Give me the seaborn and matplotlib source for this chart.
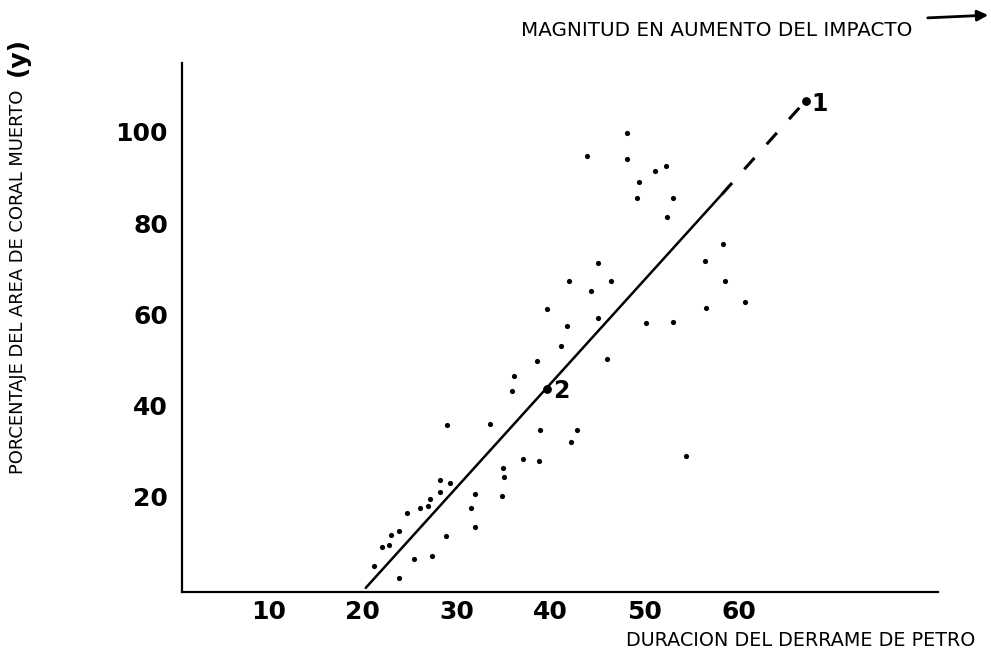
import numpy as np
import pandas as pd
import matplotlib
matplotlib.use('Agg')
import matplotlib.pyplot as plt
import seaborn as sns

# ---- values --------------------------------------------------------------
spill_days = [29.0, 33.5, 37.0, 38.7, 34.9, 35.0, 28.2, 29.3, 28.2, 31.9,
              34.8, 27.1, 26.1, 26.9, 31.5, 24.7, 31.9, 23.8, 23.0, 28.8,
              22.8, 22.0, 21.2, 25.4, 27.4, 23.8, 41.9, 46.4, 44.3, 39.6,
              45.0, 41.7, 41.1, 38.5, 46.0, 36.1, 35.9, 38.8, 42.8, 42.1,
              48.1, 43.9, 48.1, 52.3, 51.1, 49.4, 49.2, 53.0, 52.4, 58.3,
              56.4, 58.5, 45.0, 56.5, 50.1, 53.0, 60.7, 54.4]
dead_coral = [35.7, 36.0, 28.3, 27.9, 26.3, 24.3, 23.6, 23.0, 21.1, 20.5,
              20.2, 19.6, 17.6, 18.0, 17.5, 16.4, 13.3, 12.4, 11.7, 11.3,
              9.4, 9.0, 4.9, 6.4, 7.0, 2.2, 67.4, 67.3, 65.1, 61.1,
              59.1, 57.5, 53.1, 49.8, 50.2, 46.5, 43.2, 34.7, 34.7, 31.9,
              99.7, 94.6, 94.1, 92.6, 91.4, 88.9, 85.5, 85.4, 81.4, 75.4,
              71.6, 67.2, 71.2, 61.3, 58.0, 58.4, 62.6, 28.9]

marked_labels = ['1', '2']
marked_x = [67.1, 39.6]
marked_y = [106.8, 43.7]

trend_x = [20.3, 58.2]
trend_y = [0.0, 86.3]
extension_x = [58.2, 67.1]
extension_y = [86.3, 106.8]

x_ticks = [10, 20, 30, 40, 50, 60]
y_ticks = [20, 40, 60, 80, 100]

points = pd.DataFrame({'days': spill_days, 'coral': dead_coral})
marked = pd.DataFrame({'days': marked_x, 'coral': marked_y, 'label': marked_labels})

# ---- figure ----------------------------------------------------------------
sns.set_style('white')
plt.rcParams['font.family'] = ['DejaVu Sans']
plt.rcParams['text.color'] = 'black'

fig = plt.figure(figsize=(9.91, 6.62), dpi=100)
ax = fig.add_axes([182 / 991, 1 - 592 / 662, 756 / 991, 529 / 662])

sns.scatterplot(data=points, x='days', y='coral', ax=ax, color='black',
                s=14, linewidth=0, legend=False)
sns.scatterplot(data=marked, x='days', y='coral', ax=ax, color='black',
                s=40, linewidth=0, legend=False)
sns.lineplot(x=trend_x, y=trend_y, ax=ax, color='black', linewidth=1.8)
sns.lineplot(x=extension_x, y=extension_y, ax=ax, color='black',
             linewidth=2.2, linestyle=(0, (5, 6)))

for _, row in marked.iterrows():
    ax.text(row.days + 0.6, row.coral - 0.6, row.label, fontsize=17,
            fontweight='bold', va='center', ha='left', color='black')

ax.set_xlim(0.75, 81.2)
ax.set_ylim(-0.9, 115.1)
ax.set_xticks(x_ticks)
ax.set_yticks(y_ticks)
ax.set_xticklabels([str(t) for t in x_ticks], fontsize=18, fontweight='bold')
ax.set_yticklabels([str(t) for t in y_ticks], fontsize=18, fontweight='bold')
ax.tick_params(axis='both', direction='in', length=9, width=1.3,
               colors='black', labelcolor='black')
ax.tick_params(axis='x', pad=6)
ax.tick_params(axis='y', pad=10)
ax.set_xlabel('')
ax.set_ylabel('')

sns.despine(ax=ax)
for side in ['left', 'bottom']:
    ax.spines[side].set_linewidth(1.6)
    ax.spines[side].set_color('black')

# axis titles and the impact arrow
fig.text(975 / 991, 1 - 640 / 662, 'DURACION DEL DERRAME DE PETRO',
         fontsize=13.8, ha='right', va='center')
fig.text(18 / 991, 1 - 474 / 662, 'PORCENTAJE DEL AREA DE CORAL MUERTO',
         fontsize=12.9, rotation=90, ha='center', va='bottom')
fig.text(18 / 991, 1 - 76 / 662, '(y)', fontsize=18, fontweight='bold',
         rotation=90, ha='center', va='bottom')
fig.text(912 / 991, 1 - 30 / 662, 'MAGNITUD EN AUMENTO DEL IMPACTO',
         fontsize=14.3, ha='right', va='center')
fig.patches.append(matplotlib.patches.FancyArrowPatch(
    (925 / 991, 1 - 18 / 662), (991 / 991, 1 - 15 / 662),
    transform=fig.transFigure, arrowstyle='-|>', mutation_scale=16,
    color='black', linewidth=2))

fig.savefig('out.png', dpi=100)
